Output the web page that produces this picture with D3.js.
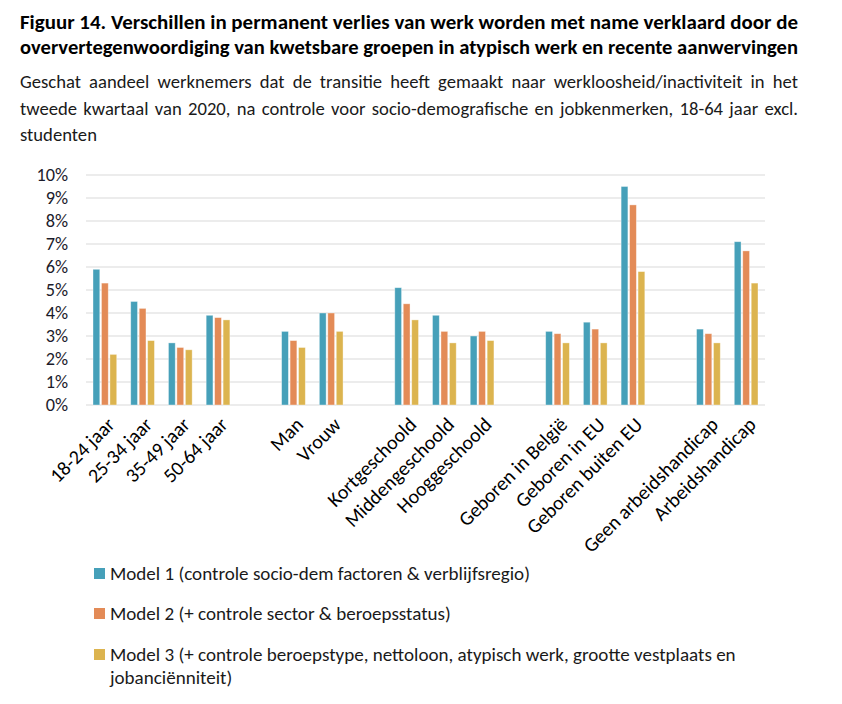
<!DOCTYPE html>
<html>
<head>
<meta charset="utf-8">
<script src="https://cdn.jsdelivr.net/npm/d3@7"></script>
<style>
  body { margin: 0; background: #fff; }
  svg { display: block; }
  text { font-family: Carlito, Lato, "Open Sans", sans-serif; }
</style>
</head>
<body>
<svg id="chart" width="842" height="704"></svg>
<script>
// ---- data ----
const titleLines = [
  "Figuur 14. Verschillen in permanent verlies van werk worden met name verklaard door de",
  "oververtegenwoordiging van kwetsbare groepen in atypisch werk en recente aanwervingen"
];
const subtitleLines = [
  "Geschat aandeel werknemers dat de transitie heeft gemaakt naar werkloosheid/inactiviteit in het",
  "tweede kwartaal van 2020, na controle voor socio-demografische en jobkenmerken, 18-64 jaar excl.",
  "studenten"
];
const categories = [
  "18-24 jaar", "25-34 jaar", "35-49 jaar", "50-64 jaar",
  "Man", "Vrouw",
  "Kortgeschoold", "Middengeschoold", "Hooggeschoold",
  "Geboren in België", "Geboren in EU", "Geboren buiten EU",
  "Geen arbeidshandicap", "Arbeidshandicap"
];
// group sizes (an empty slot separates consecutive groups)
const groupSizes = [4, 2, 3, 3, 2];
const seriesNames = ["Model 1", "Model 2", "Model 3"];
const legendLabels = [
  ["Model 1 (controle socio-dem factoren & verblijfsregio)"],
  ["Model 2 (+ controle sector & beroepsstatus)"],
  ["Model 3 (+ controle beroepstype, nettoloon, atypisch werk, grootte vestplaats en", "jobanciënniteit)"]
];
const model1 = [5.9, 4.5, 2.7, 3.9, 3.2, 4.0, 5.1, 3.9, 3.0, 3.2, 3.6, 9.5, 3.3, 7.1];
const model2 = [5.3, 4.2, 2.5, 3.8, 2.8, 4.0, 4.4, 3.2, 3.2, 3.1, 3.3, 8.7, 3.1, 6.7];
const model3 = [2.2, 2.8, 2.4, 3.7, 2.5, 3.2, 3.7, 2.7, 2.8, 2.7, 2.7, 5.8, 2.7, 5.3];
const yTicks = [0, 1, 2, 3, 4, 5, 6, 7, 8, 9, 10];
const colors = ["#46a0b9", "#e38b57", "#dcb44f"];

// ---- layout ----
const svg = d3.select("#chart");
const plotLeft = 86, plotRight = 765, plotTop = 175, plotBottom = 405;
const textWidth = 778;

// font size that makes `text` about `target` px wide in the installed substitute font
function fitSize(text, weight, target) {
  const t = svg.append("text").attr("font-size", 100).attr("font-weight", weight).text(text);
  const w = t.node().getComputedTextLength();
  t.remove();
  return w > 0 ? 100 * target / w : 16;
}

const titleSize = fitSize(titleLines[0], "bold", textWidth);
const subSize = fitSize("studenten", "normal", 77);
const tickSize = fitSize("Geen arbeidshandicap", "normal", 181);
const ySize = fitSize("10%", "normal", 31.6);
const legendSize = fitSize(legendLabels[0][0], "normal", 420);

// titles
svg.append("g").selectAll("text").data(titleLines).join("text")
  .attr("x", 20)
  .attr("y", (d, i) => 29 + i * 25)
  .attr("font-size", titleSize)
  .attr("font-weight", "bold")
  .attr("fill", "#000")
  .attr("textLength", textWidth)
  .attr("lengthAdjust", "spacingAndGlyphs")
  .text(d => d);

// subtitle, justified by word spacing (last line left-aligned)
svg.append("g").selectAll("text").data(subtitleLines).join("text")
  .attr("x", 20)
  .attr("y", (d, i) => 88 + i * 26.5)
  .attr("font-size", subSize)
  .attr("fill", "#1a1a1a")
  .text(d => d)
  .each(function (d, i) {
    if (i < subtitleLines.length - 1) {
      const w = this.getComputedTextLength();
      const nSpaces = (d.match(/ /g) || []).length;
      if (nSpaces > 0) d3.select(this).attr("word-spacing", ((textWidth - w) / nSpaces).toFixed(2) + "px");
    }
  });

// slot positions
const slots = [];
let s = 0;
groupSizes.forEach((n, gi) => {
  for (let k = 0; k < n; k++) slots.push(s++);
  if (gi < groupSizes.length - 1) s++;
});
const nSlots = s;

const x = d3.scaleBand().domain(d3.range(nSlots)).range([plotLeft, plotRight]).paddingInner(0).paddingOuter(0);
const groupWidth = 23.7;
const xInner = d3.scaleBand().domain(seriesNames).range([-groupWidth / 2, groupWidth / 2]).paddingInner(0.2);
const y = d3.scaleLinear().domain([0, 10]).range([plotBottom, plotTop]);

// gridlines
svg.append("g").selectAll("line").data(yTicks).join("line")
  .attr("x1", plotLeft).attr("x2", plotRight)
  .attr("y1", d => y(d)).attr("y2", d => y(d))
  .attr("stroke", "#d9d9d9").attr("stroke-width", 1.2);

// y axis labels
const yAxis = d3.axisLeft(y).tickValues(yTicks).tickFormat(d => d + "%").tickSize(0).tickPadding(0);
const yG = svg.append("g").attr("transform", `translate(68,0)`).call(yAxis);
yG.select(".domain").remove();
yG.selectAll("text").attr("font-size", ySize).attr("fill", "#1b1b2b")
  .attr("font-family", "Carlito, Lato, 'Open Sans', sans-serif");

// bars
const series = [model1, model2, model3];
const barData = [];
categories.forEach((c, i) => {
  series.forEach((arr, j) => barData.push({ cat: i, model: seriesNames[j], v: arr[i], color: colors[j] }));
});
svg.append("g").selectAll("rect").data(barData).join("rect")
  .attr("x", d => x(slots[d.cat]) + x.bandwidth() / 2 + xInner(d.model))
  .attr("width", xInner.bandwidth())
  .attr("y", d => y(d.v))
  .attr("height", d => y(0) - y(d.v))
  .attr("fill", d => d.color)
  .attr("stroke", "#ffffff").attr("stroke-opacity", 0.45).attr("stroke-width", 0.8);

// x axis labels (rotated)
svg.append("g").selectAll("text").data(categories).join("text")
  .attr("transform", (d, i) => `translate(${x(slots[i]) + x.bandwidth() / 2 + 6},${plotBottom + 16}) rotate(-45)`)
  .attr("text-anchor", "end")
  .attr("dy", "0.35em")
  .attr("font-size", tickSize)
  .attr("fill", "#000")
  .text(d => d);

// legend
const lg = svg.append("g");
const legendY = [580, 620, 661];
legendLabels.forEach((lines, i) => {
  lg.append("rect").attr("x", 94).attr("y", legendY[i] - 12).attr("width", 11).attr("height", 11).attr("fill", colors[i]);
  lines.forEach((t, k) => {
    lg.append("text").attr("x", 110).attr("y", legendY[i] + k * 22.5)
      .attr("font-size", legendSize).attr("fill", "#1a1a1a").text(t);
  });
});
</script>
</body>
</html>
